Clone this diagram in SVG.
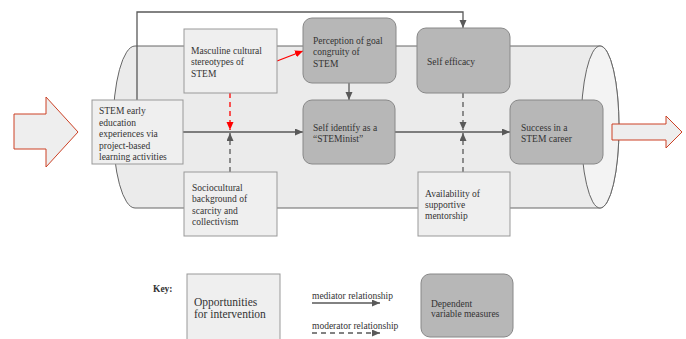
<svg xmlns="http://www.w3.org/2000/svg" width="686" height="339" viewBox="0 0 686 339">
<defs>
<marker id="ag" markerUnits="userSpaceOnUse" markerWidth="9" markerHeight="8" refX="8" refY="3.5" orient="auto"><path d="M0,0 L8,3.5 L0,7 z" fill="#595959"/></marker>
<marker id="ar" markerUnits="userSpaceOnUse" markerWidth="9" markerHeight="8" refX="8" refY="3.5" orient="auto"><path d="M0,0 L8,3.5 L0,7 z" fill="#ff0000"/></marker>
</defs>
<style>
text{font-family:"Liberation Serif","Times New Roman",serif;font-size:9.5px;fill:#333}
.lt{fill:#efefef;stroke:#999;stroke-width:1}
.dk{fill:#b7b7b7;stroke:#888;stroke-width:1}
.c{fill:none;stroke:#595959;stroke-width:1.3}
.d{stroke-dasharray:5,4}
.r{stroke:#ff0000}
.big{fill:#eeeeee;stroke:#cc4125;stroke-width:1}
</style>
<g id="cylinder">
<path d="M135,46 L600,46 A19,81 0 0 1 600,208 L135,208 A22,81 0 0 1 135,46 Z" fill="#ebebeb" stroke="#666" stroke-width="1"/>
<ellipse cx="600" cy="127" rx="19" ry="81" fill="#f3f3f3" stroke="#666" stroke-width="1"/>
</g>
<g id="arrow-in"><path class="big" d="M14,114 H46 V97 L78,132 L46,167 V149 H14 Z"/></g>
<g id="arrow-out"><path class="big" d="M612,124 H666 V116 L682,132 L666,148 V140 H612 Z"/></g>
<g id="connectors">
<path class="c" d="M137,100 V12 H463 V28" marker-end="url(#ag)"/>
<path class="c r" d="M277,61 L303,51" marker-end="url(#ar)"/>
<path class="c r d" d="M230,93 V130" marker-end="url(#ar)"/>
<path class="c d" d="M230,172 V133" marker-end="url(#ag)"/>
<path class="c" d="M183,132 H303" marker-end="url(#ag)"/>
<path class="c" d="M349,83 V100" marker-end="url(#ag)"/>
<path class="c" d="M395,132 H510" marker-end="url(#ag)"/>
<path class="c d" d="M463,93 V130" marker-end="url(#ag)"/>
<path class="c d" d="M463,172 V133" marker-end="url(#ag)"/>
</g>
<g id="stem-early">
<rect class="lt" x="92" y="100" width="91" height="64"/>
<text x="99" y="114">STEM early</text>
<text x="99" y="125.5">education</text>
<text x="99" y="137">experiences via</text>
<text x="99" y="148.5">project-based</text>
<text x="99" y="160">learning activities</text>
</g>
<g id="masculine">
<rect class="lt" x="184" y="29" width="93" height="64"/>
<text x="191" y="53.5">Masculine cultural</text>
<text x="191" y="65">stereotypes of</text>
<text x="191" y="76.5">STEM</text>
</g>
<g id="perception">
<rect class="dk" x="303" y="18" width="93" height="65" rx="9"/>
<text x="313" y="43.5">Perception of goal</text>
<text x="313" y="55">congruity of</text>
<text x="313" y="66.5">STEM</text>
</g>
<g id="self-efficacy">
<rect class="dk" x="417" y="28" width="93" height="65" rx="9"/>
<text x="427" y="65">Self efficacy</text>
</g>
<g id="self-identify">
<rect class="dk" x="303" y="100" width="92" height="64" rx="9"/>
<text x="313" y="130.5">Self identify as a</text>
<text x="313" y="142">“STEMinist”</text>
</g>
<g id="success">
<rect class="dk" x="510" y="100" width="93" height="64" rx="9"/>
<text x="521" y="130.5">Success in a</text>
<text x="521" y="142">STEM career</text>
</g>
<g id="sociocultural">
<rect class="lt" x="184" y="172" width="93" height="64"/>
<text x="192" y="190.5">Sociocultural</text>
<text x="192" y="202">background of</text>
<text x="192" y="213.5">scarcity and</text>
<text x="192" y="225">collectivism</text>
</g>
<g id="availability">
<rect class="lt" x="418" y="172" width="92" height="64"/>
<text x="425" y="196.5">Availability of</text>
<text x="425" y="207.5">supportive</text>
<text x="425" y="218.5">mentorship</text>
</g>
<g id="key">
<text x="153" y="291.5" font-weight="bold">Key:</text>
<rect class="lt" x="187" y="274" width="93" height="70"/>
<text x="194" y="306" style="font-size:11.5px">Opportunities</text>
<text x="194" y="317.5" style="font-size:11.5px">for intervention</text>
<text x="312" y="298.5">mediator relationship</text>
<path class="c" d="M312,303 H380" marker-end="url(#ag)"/>
<text x="312" y="329">moderator relationship</text>
<path class="c d" d="M312,333 H380" marker-end="url(#ag)"/>
<rect class="dk" x="421" y="274" width="92" height="63" rx="9"/>
<text x="431" y="306.5">Dependent</text>
<text x="431" y="317">variable measures</text>
</g>
</svg>
